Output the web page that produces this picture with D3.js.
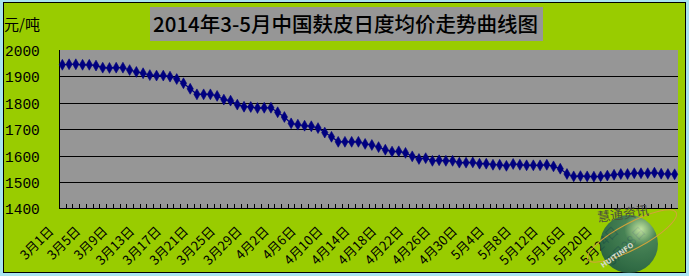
<!DOCTYPE html>
<html>
<head>
<meta charset="utf-8">
<script src="https://cdn.jsdelivr.net/npm/d3@7"></script>
<style>
  html, body { margin: 0; padding: 0; background: #a8e4f0; }
  svg { display: block; }
</style>
</head>
<body>
<svg id="chart" width="689" height="276"></svg>
<script>
// ---- data ----
const title = "2014年3-5月中国麸皮日度均价走势曲线图";
const unitLabel = "元/吨";
const monthNames = ["3月", "4月", "5月"];
const monthDays = [31, 30, 31];
const prices = [
  1944, 1946, 1946, 1944, 1944, 1941, 1933, 1932, 1933, 1933,
  1924, 1917, 1912, 1905, 1903, 1903, 1899, 1890, 1874, 1853,
  1832, 1832, 1832, 1826, 1812, 1808, 1793, 1785, 1784, 1780,
  1781, 1781, 1764, 1746, 1722, 1717, 1713, 1711, 1704, 1687,
  1671, 1652, 1652, 1652, 1652, 1644, 1640, 1632, 1622, 1615,
  1616, 1610, 1597, 1587, 1590, 1580, 1582, 1580, 1580, 1573,
  1573, 1574, 1569, 1569, 1565, 1565, 1561, 1568, 1565, 1563,
  1563, 1563, 1565, 1559, 1550, 1530, 1521, 1522, 1521, 1520,
  1521, 1524, 1527, 1530, 1530, 1533, 1533, 1533, 1535, 1531,
  1530, 1529
];
const yTicks = [1400, 1500, 1600, 1700, 1800, 1900, 2000];
const tickLabels = ["3月1日","3月5日","3月9日","3月13日","3月17日","3月21日","3月25日","3月29日",
  "4月2日","4月6日","4月10日","4月14日","4月18日","4月22日","4月26日","4月30日",
  "5月4日","5月8日","5月12日","5月16日","5月20日","5月24日","5月28日"];

// category labels (one per day)
const dates = [];
monthNames.forEach((m, i) => { for (let d = 1; d <= monthDays[i]; d++) dates.push(m + d + "日"); });
const data = dates.map((d, i) => ({ date: d, value: prices[i] }));

// ---- layout ----
const svg = d3.select("#chart");
const W = 689, H = 276;
const plot = { left: 59, right: 678, top: 50, bottom: 208.3 };

// outer frame
svg.append("rect").attr("x", 0).attr("y", 0).attr("width", W).attr("height", H).attr("fill", "#a8e4f0");
svg.append("rect").attr("x", 3.5).attr("y", 2.5).attr("width", 682).attr("height", 270)
  .attr("fill", "#99cc00").attr("stroke", "#000").attr("stroke-width", 1);

const x = d3.scaleBand().domain(dates).range([plot.left, plot.right]).padding(0);
const y = d3.scaleLinear().domain([1400, 2000]).range([plot.bottom, plot.top]);

// plot area
svg.append("rect").attr("x", plot.left).attr("y", plot.top)
  .attr("width", plot.right - plot.left).attr("height", plot.bottom - plot.top)
  .attr("fill", "#969696");

// gridlines
svg.append("g").selectAll("line").data(yTicks.filter(t => t > 1400 && t < 2000)).join("line")
  .attr("x1", plot.left).attr("x2", plot.right)
  .attr("y1", d => Math.round(y(d)) + 0.5).attr("y2", d => Math.round(y(d)) + 0.5)
  .attr("stroke", "#000").attr("stroke-width", 1);

// y axis labels
svg.append("g").selectAll("text").data(yTicks).join("text")
  .attr("x", 5).attr("y", d => y(d) + 6)
  .attr("font-family", "Liberation Mono, DejaVu Sans Mono, monospace")
  .attr("font-size", 14.5).attr("fill", "#000")
  .text(d => d);

// unit label
svg.append("text").attr("x", 4).attr("y", 30)
  .attr("font-family", "Noto Sans CJK SC, sans-serif").attr("font-size", 15).attr("fill", "#000")
  .text(unitLabel);

// axes lines
svg.append("line").attr("x1", plot.left + 0.5).attr("x2", plot.left + 0.5)
  .attr("y1", plot.top).attr("y2", plot.bottom).attr("stroke", "#000");
svg.append("line").attr("x1", plot.left).attr("x2", plot.right)
  .attr("y1", Math.round(plot.bottom) + 0.5).attr("y2", Math.round(plot.bottom) + 0.5).attr("stroke", "#000");

// x tick marks (between categories, inward)
svg.append("g").selectAll("line").data(dates.slice(1)).join("line")
  .attr("x1", d => Math.round(x(d)) + 0.5).attr("x2", d => Math.round(x(d)) + 0.5)
  .attr("y1", Math.round(plot.bottom) - 4).attr("y2", Math.round(plot.bottom))
  .attr("stroke", "#000");

// x labels
svg.append("g").selectAll("text").data(tickLabels).join("text")
  .attr("transform", d => `translate(${x(d) + x.bandwidth() / 2 - 8},${232}) rotate(-45)`)
  .attr("text-anchor", "end")
  .attr("font-family", "Noto Sans CJK SC, sans-serif").attr("font-size", 13).attr("fill", "#000")
  .text(d => d);

// line
const line = d3.line().x(d => x(d.date) + x.bandwidth() / 2).y(d => y(d.value));
svg.append("path").datum(data).attr("d", line)
  .attr("fill", "none").attr("stroke", "#000080").attr("stroke-width", 1.2);

// markers
svg.append("g").selectAll("path").data(data).join("path")
  .attr("transform", d => `translate(${x(d.date) + x.bandwidth() / 2},${y(d.value)})`)
  .attr("d", d3.symbol().type(d3.symbolDiamond).size(34))
  .attr("fill", "#000080").attr("stroke", "#000080").attr("stroke-width", 0.6);

// title
svg.append("rect").attr("x", 150).attr("y", 7).attr("width", 393).attr("height", 34).attr("fill", "#969696");
svg.append("text").attr("x", 345.5).attr("y", 31.5).attr("text-anchor", "middle")
  .attr("font-family", "Noto Sans CJK SC, sans-serif").attr("font-size", 20.5).attr("font-weight", 500)
  .attr("fill", "#000").text(title);

// watermark logo (approximation)
const defs = svg.append("defs");
const grad = defs.append("radialGradient").attr("id", "globe").attr("cx", "70%").attr("cy", "25%").attr("r", "80%");
grad.append("stop").attr("offset", "0%").attr("stop-color", "#c8e8b0");
grad.append("stop").attr("offset", "35%").attr("stop-color", "#3e7a5e");
grad.append("stop").attr("offset", "100%").attr("stop-color", "#1f5a48");
const logo = svg.append("g").attr("opacity", 0.9);
logo.append("circle").attr("cx", 629).attr("cy", 244).attr("r", 29).attr("fill", "url(#globe)");
logo.append("ellipse").attr("cx", 632).attr("cy", 236).attr("rx", 50).attr("ry", 13)
  .attr("transform", "rotate(-28,632,236)").attr("fill", "none").attr("stroke", "#d9a040").attr("stroke-width", 1);
logo.append("text").attr("x", 598).attr("y", 222).attr("font-family", "Noto Sans CJK SC, sans-serif")
  .attr("font-size", 13).attr("fill", "#444").attr("transform", "rotate(-8,598,222)").text("慧通资讯");
logo.append("text").attr("x", 603).attr("y", 268).attr("font-family", "DejaVu Sans, sans-serif")
  .attr("font-size", 7).attr("font-weight", "bold").attr("fill", "#ddd")
  .attr("transform", "rotate(-35,603,268)").text("HUITINFO");
</script>
</body>
</html>
